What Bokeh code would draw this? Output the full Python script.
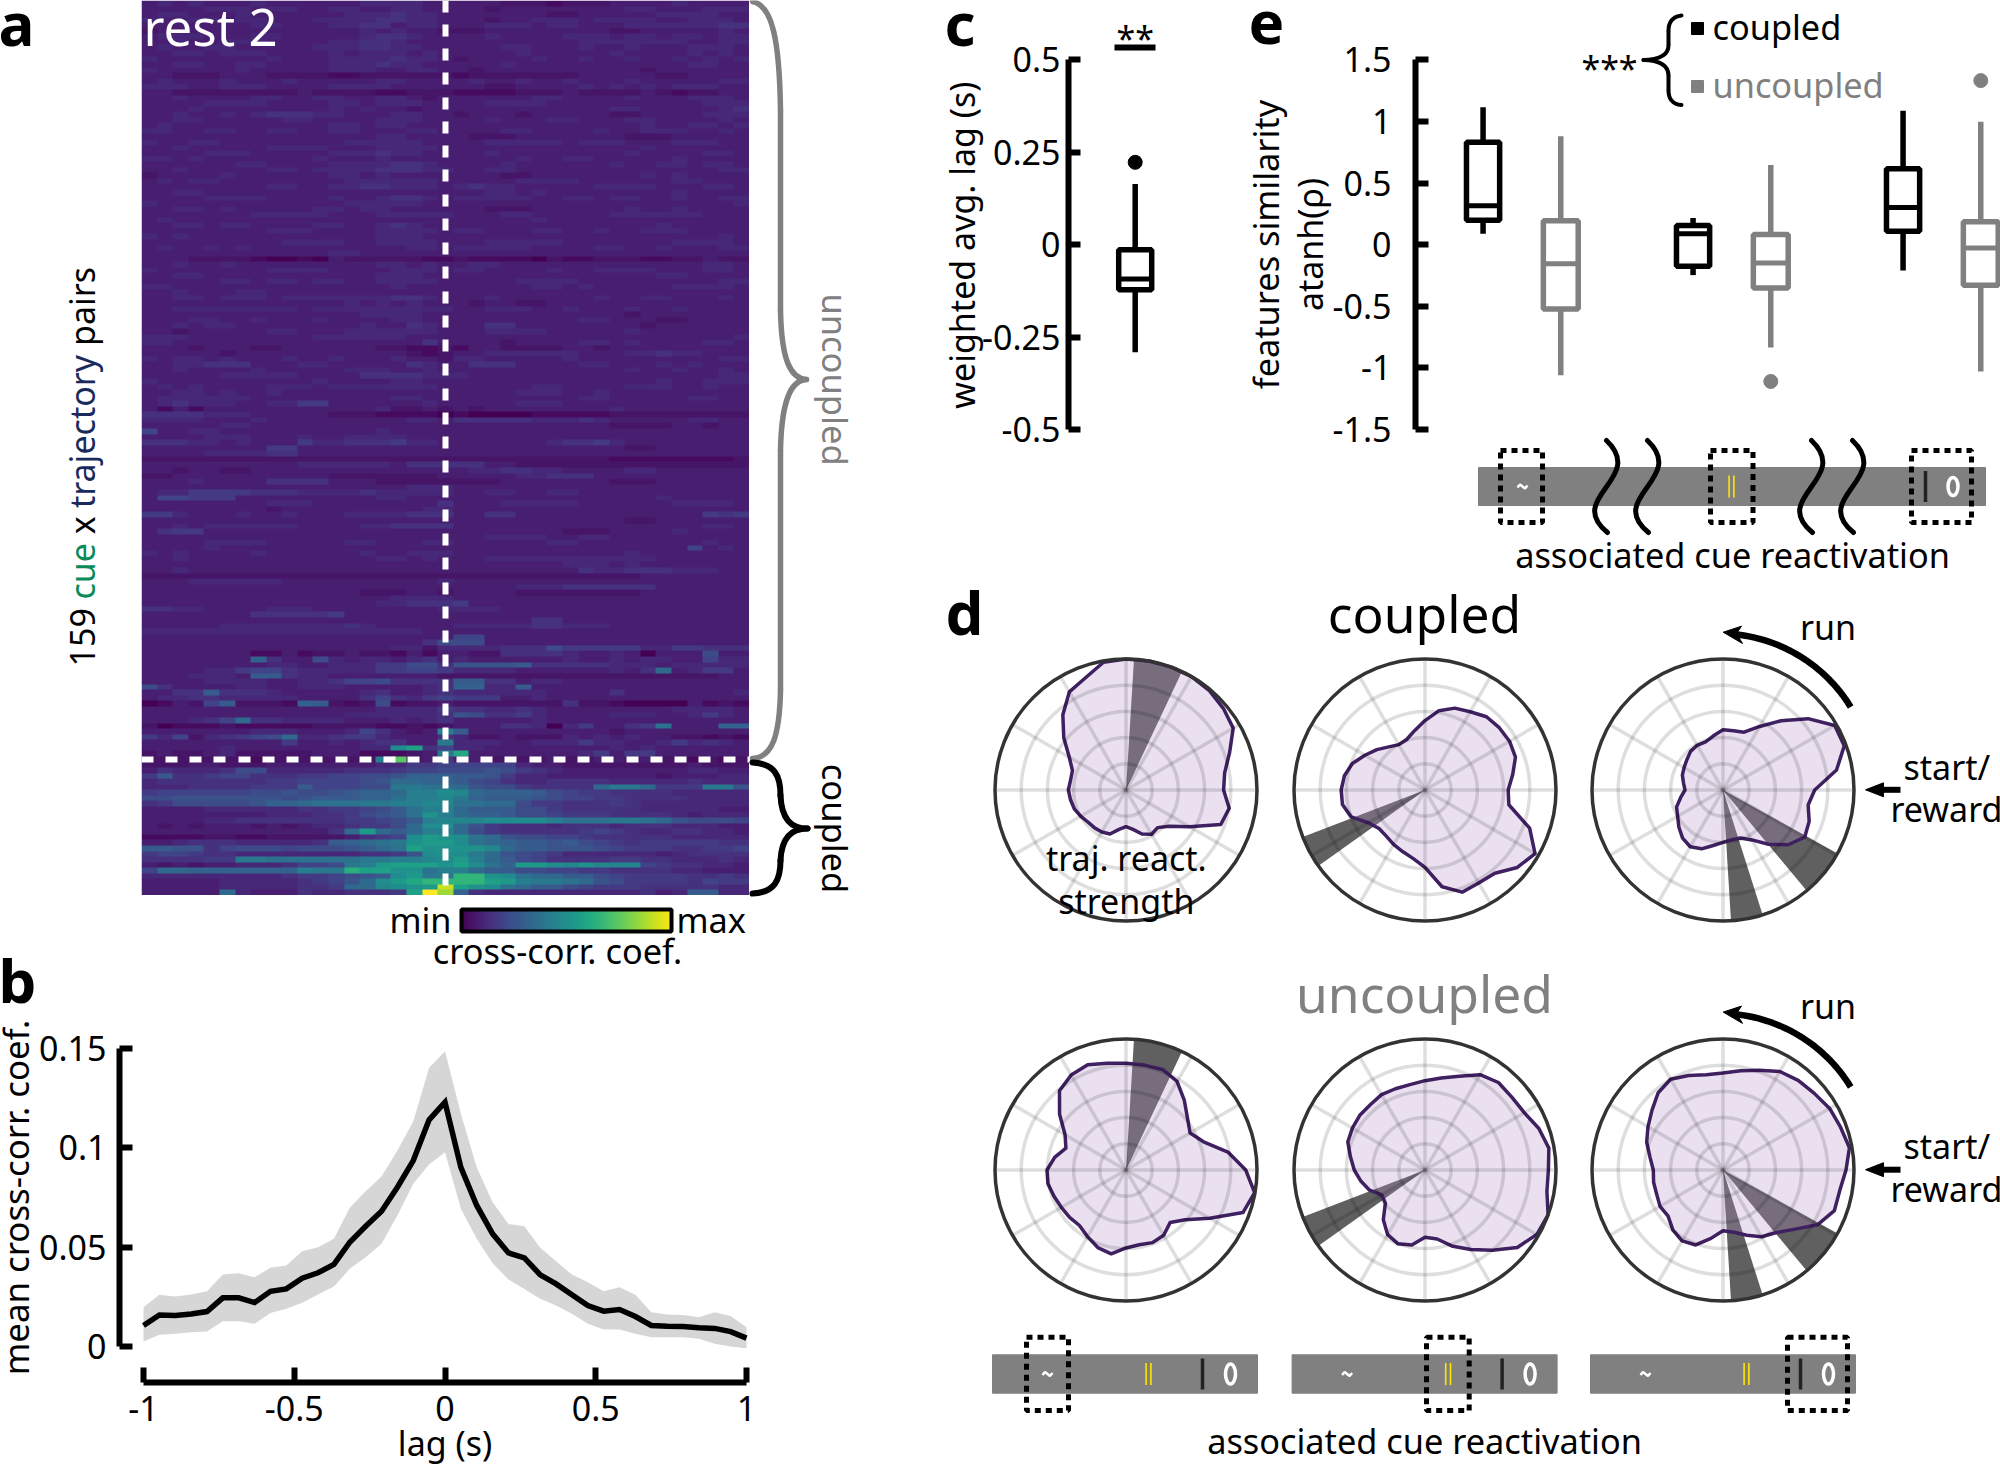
import numpy as np
from bokeh.core.properties import value
from bokeh.embed import file_html
from bokeh.models import FixedTicker, Range1d
from bokeh.palettes import Viridis256
from bokeh.plotting import figure
from bokeh.resources import INLINE

FONT = "Noto Sans"
GRAY = "#808080"

# ---------- panel a: 159 rows x 39 lags, base-36 digit / 35 = scaled coefficient ----------
HEAT_UPPER = """
3434333433 3333444433 3332221222 333343333
3333444344 3344334433 3323333333 344333444
3443334333 3334445443 3333332233 333444433
4334434433 3444455443 3323344434 444334443
3333333443 3344553443 3344434433 344444455
2333333333 3333434332 2233333333 223333343
3444333443 3333455433 3343333444 344344344
3343344433 3344554333 3333333344 444443344
3433443333 3444554433 3334433343 343334443
3344344433 3343444343 3333433333 433334343
4333333343 3344445443 2333343343 343343434
3344334433 3344454433 3334333333 333334433
4333334333 3344433443 3233333333 332333333
3322233322 2211222222 1222222233 333223333
3433343334 3333344333 3433433433 343333344
4443344433 3344443333 3322333343 434344433
3322222222 3222211222 1111222322 223212233
3343333443 3443344323 3333344333 343334443
3333444433 3344344433 3344443333 333333444
3334333333 3343433233 3333333333 443333345
3343343455 5443334433 2333233333 223333444
3344333334 4333344433 3343334433 344333343
3433333333 3344344333 3333333333 334334434
4433443344 3344333443 3334433334 334443343
3333333333 3333344333 3222333333 322233333
4334433333 3334444433 3344444344 433344433
3343333344 4433344443 3333333333 334333333
3333444333 3344454433 3343333333 343333443
4434333333 3433343333 3333433443 333343333
3333334433 3344445543 3334333333 433443443
3343333344 3444455544 3344333333 333333344
2333343333 3344343333 3332233333 334343333
3434433333 3334444443 3333444433 333344333
3333333344 3344554443 4544333334 444333443
3344333333 3333333333 3344343333 333343333
3333444433 3343345543 4444433443 443343344
4333333333 3334444433 3333333333 333333334
3344343333 3443443333 3322233333 343343333
3333333444 4433344444 3334433333 444444333
3433333333 3333333333 3333343333 333333333
3344344333 3443345433 3333333333 333433333
3333333344 4333344443 4433344334 334443333
4343333333 3333344433 3333333333 333333343
3333333334 4443344443 3344444333 333344443
3433434333 3333333443 4444433334 433433344
3333333333 3344333333 3333333333 333333333
3332222100 1032222211 2111102112 221122322
3343343333 3333344343 3443333333 333333443
4333333344 4433334443 4433334334 444333443
3344333333 3333344433 3333333333 333443333
3333344344 3443344443 3333444433 333333344
4433333333 3333334333 3333344343 333344443
3343334433 3333333333 3333333333 333333333
3344344434 4444445543 3343333334 334433343
3333333333 3334343433 3233223333 333333333
3344444444 3444444444 3344433433 343343333
3333333333 3333444433 3333333333 323333333
3334433433 3433334433 3333333344 333223333
3343443333 3333433543 3355333333 332333333
3323333344 3334444443 3344443333 343333333
4443333333 3444444333 3333333333 333333334
4433333333 3333333353 3332333344 343333443
3332333223 3333322112 1332222332 333333333
3333323333 3333333212 3344444433 344544333
4344343334 3343334332 4433333433 333333344
3344555333 4433333543 3555333344 333434333
3343333433 3334443343 3333333333 343343343
3333344444 3333555544 4333333333 333333344
4333333333 3433334433 3333333333 333433444
3434333344 4344444443 3333344333 344433433
3344343343 3333333333 3333444334 333333333
3444444333 3333334433 3333333344 333334433
3454443344 6633333343 3333444333 333333333
3131333333 3333342232 3233333333 433333333
5555444333 3322211110 1000011111 222222222
4444333433 3333333443 5555544454 333334433
3333344333 3333333333 3333333333 222233233
7334433333 3333343333 3333333333 333333333
3333444333 4334444333 3333333333 333333333
5554434333 6445556443 3333334556 433333333
3333333366 3333333333 3333333333 322333333
3333444455 3333333333 3333333333 333333333
2222222222 2222222222 2222222222 111111112
3333333333 4444443555 5533222222 222222222
3323322333 3333333333 3445544333 344333333
2233333333 3322222223 3333445553 333333333
3334333355 5533322222 2223333333 222333333
3333333333 3333333444 3333333333 333333333
3446666555 4444544444 3344334433 333333333
3776663333 3333344333 3333333333 333433333
3333333344 4333333335 3334444433 333344443
3333333323 3333333344 3333333333 333333333
6643334334 3334444555 3355333333 333333656
3333333333 3333333333 3333333333 322333333
3343444444 3333445555 3333333333 333333443
3566333333 3333333333 3333333222 333343333
3333333333 3333333333 3344443344 333333333
3333444433 3334433344 3333334433 333333433
3333433333 3333333333 3333333333 333337343
4343333433 3333433444 3333333333 343333333
3343333333 3333344343 3344444444 444333333
3333333333 3333333333 3333333444 343333333
3343333333 3333333333 3333333354 455544433
2222222222 2222222222 2222222222 223333333
3334444443 3333333334 3333333333 333333333
3333333333 3333333333 3333444555 555333333
3333333333 3333222332 3333222222 223333333
3333333333 3333334444 3333333333 333333333
3333333333 3333344555 6333333333 333333333
5544333344 4333333334 4443333333 333333333
3333333555 5563333333 3333333333 333333333
3333333333 3333333333 3333355333 333333333
3333344444 4445433333 4444455444 333333333
4444444444 4444444433 3333333333 333333333
3333333333 3333333333 7733333333 333333333
3333333333 3333333358 8833333333 333333333
"""

HEAT_LOWER = """
3333333333 3333334424 4445558666 664466555
3333333113 1223221313 3225555433 430333833
3333333b53 3843443453 4333333433 434433744
3333333344 3344466885 9999a55555 444344444
3333446775 4444466776 4444333333 435c34663
3334443aa5 4433333332 2222222222 222222233
3333444433 4457785555 aa55344333 333333333
8533334433 4443333345 bb44a33333 333333333
3355a55543 3333453345 4444443333 533333334
3445544444 3333575467 6663343333 333333333
01327a2221 ba21281223 2222222522 100003121
3333333333 3333344446 5544543333 333344443
3333333333 3334444445 9855643333 444334643
333457c554 4443334345 3333343333 333333333
2011121111 1222211212 3335540463 356d333bb
3333333444 333475323f a333333333 233333333
6472456 78c 4456643335 4223222434 343322121
3333333336 334345533e 4443344464 433464543
3333343333 333344hk57 4433333333 434333333
2322342222 233311123e l333333346 366333333
2222222122 22222fq236 3322223223 323221212
2223322233 3333344667 7777433222 222223222
3544458844 4445556778 8898654333 333334433
6a55677555 6677889bbb aa96443333 333233344
4555555566 777789ccbb a875445555 444445444
4445555666 a77788eedd c98865555c eec666ee9
6777777889 889abbcffh gcbbba8766 555544444
8899999998 9aaabbdffg ebaaa98776 655554444
56888889bb cdddeeffgg ddcc866555 654444444
3333444444 556678adff caaa886555 554444433
3333333344 455689adif cbba887666 555543444
3333445555 5556678afg gghhhhfddd eedc98887
3232333232 3445668chh c965554555 455544433
3333333333 335cjcacff c865555567 654455443
1111221122 2223567hji hdc9887765 555544444
3345554444 45abcdeijj hdcbaa9a87 656666655
aa99578887 8889acdkii iigcaa9998 766655667
6776554444 44445569hi hec9876444 444345555
555566eedd ddddeeffgh jfca875555 665544454
3232334445 778efjkkki khdbjjhgig gg7655443
7ccbbbbbbb feemkkiidf fcaa887766 555544333
4444444445 66789ahjee nnihdccaa8 766665565
3333344444 5679chjlnn nnkjfeedc9 866665766
3333344444 556ccghijw kihdcaa876 665555544
33333c4333 5445556kzu b544444444 44534aa44
"""


def parse_rows(text):
    rows = [line.replace(" ", "") for line in text.strip().splitlines()]
    return [[int(c, 36) / 35 for c in r.ljust(39, r[-1])[:39]] for r in rows]


heat_rows = parse_rows(HEAT_UPPER) + parse_rows(HEAT_LOWER)

# ---------- panel b ----------
LAG_TICKS = [-1, -0.5, 0, 0.5, 1]
B_Y_TICKS = [0, 0.05, 0.1, 0.15]
MEAN_CORR = [.0106,.0159,.0156,.0164,.0176,.0245,.0245,.0221,.0278,.0290,.0344,.0371,.0413,
             .0525,.0605,.0681,.0802,.0936,.1141,.1230,.0902,.0710,.0567,.0471,.0446,.0361,
             .0315,.0260,.0206,.0178,.0186,.0151,.0106,.0102,.0101,.0094,.0091,.0075,.0042]
UPPER_CORR = [.0198,.0260,.0252,.0262,.0278,.0362,.0369,.0349,.0396,.0408,.0480,.0500,.0542,
              .0698,.0782,.0856,.0986,.1132,.1403,.1486,.1171,.0902,.0726,.0617,.0605,.0497,
              .0429,.0362,.0324,.0278,.0298,.0260,.0173,.0161,.0159,.0147,.0173,.0153,.0097]
LOWER_CORR = [.0025,.0059,.0064,.0072,.0075,.0127,.0127,.0114,.0168,.0190,.0220,.0262,.0302,
              .0391,.0449,.0517,.0659,.0819,.0916,.0978,.0693,.0542,.0419,.0337,.0290,.0240,
              .0206,.0165,.0114,.0086,.0086,.0064,.0047,.0047,.0047,.0039,.0014,.0000,-.0009]

# ---------- panel c ----------
C_TICKS = [-0.5, -0.25, 0, 0.25, 0.5]
C_Q1, C_MED, C_Q3, C_LOW, C_HIGH, C_OUT = -0.122, -0.093, -0.014, -0.291, 0.164, 0.223

# ---------- panel e ----------
E_TICKS = [-1.5, -1, -0.5, 0, 0.5, 1, 1.5]
E_GROUP = [0, 0, 1, 1, 2, 2]
E_KIND = ["coupled", "uncoupled"] * 3
E_Q1 = [0.198, -0.521, -0.174, -0.351, 0.110, -0.329]
E_MED = [0.317, -0.155, 0.088, -0.149, 0.302, -0.027]
E_Q3 = [0.832, 0.195, 0.155, 0.082, 0.616, 0.186]
E_LOW = [0.088, -1.060, -0.247, -0.835, -0.210, -1.030]
E_HIGH = [1.116, 0.881, 0.216, 0.646, 1.088, 0.997]
E_OUT_GROUP = [1, 2]
E_OUT_KIND = ["uncoupled", "uncoupled"]
E_OUT = [-1.11, 1.332]

# ---------- panel d: radius at every 10 degrees, counter-clockwise from start/reward ----------
POLAR_THETA = list(range(0, 360, 10))
COUPLED_R = [
    [.745,.765,.842,.945,.97,.99,1.0,1.0,1.0,1.0,.99,.91,.865,.75,.62,.50,.435,.43,
     .44,.43,.42,.40,.38,.375,.37,.357,.305,.28,.305,.357,.39,.375,.43,.56,.77,.80],
    [.635,.68,.735,.745,.74,.73,.69,.665,.615,.53,.46,.41,.40,.43,.48,.53,.59,.625,
     .64,.64,.60,.50,.458,.46,.48,.50,.53,.59,.75,.83,.82,.83,.92,.97,.85,.65],
    [.70,.88,.985,.985,.847,.69,.56,.47,.46,.46,.42,.39,.394,.385,.36,.343,.33,.306,
     .29,.328,.377,.40,.44,.48,.50,.478,.43,.40,.386,.39,.44,.54,.65,.72,.70,.66],
]
UNCOUPLED_R = [
    [.914,.79,.63,.565,.613,.693,.78,.817,.813,.814,.827,.855,.837,.79,.662,.537,.488,.553,
     .603,.605,.585,.57,.562,.553,.587,.63,.65,.595,.58,.59,.575,.524,.59,.738,.95,.997],
    [.942,.96,.925,.875,.865,.872,.84,.762,.713,.682,.662,.66,.664,.65,.65,.64,.627,.578,
     .54,.496,.45,.38,.395,.495,.57,.60,.581,.514,.535,.62,.70,.80,.92,.985,1.0,.945],
    [.939,.98,.955,.94,.91,.893,.868,.81,.77,.74,.738,.767,.80,.77,.708,.661,.62,.566,
     .532,.538,.539,.555,.547,.596,.625,.609,.53,.463,.483,.53,.588,.625,.705,.835,.905,.905],
]
SECTOR_START = [[64.7], [201.0], [-50.3, -86.5]]
SECTOR_END = [[86.5], [215.4], [-29.0, -72.4]]
RING_R = [0.2, 0.4, 0.6, 0.8]
SPOKE_DEG = list(range(0, 360, 30))


# ---------- helpers ----------
def make_fig(left, top, right, bottom, xr, yr, border_left=0, border_bottom=0, **kw):
    """Frame occupies exactly left..right, top..bottom in page pixels."""
    fig = figure(width=int(round(right - left + border_left)), height=int(round(bottom - top + border_bottom)),
                 x_range=Range1d(*xr), y_range=Range1d(*yr), toolbar_location=None,
                 output_backend="svg", min_border_left=border_left, min_border_right=0,
                 min_border_top=0, min_border_bottom=border_bottom,
                 background_fill_alpha=0, border_fill_alpha=0, outline_line_color=None,
                 x_axis_location=kw.pop("x_axis_location", None),
                 y_axis_location=kw.pop("y_axis_location", None), **kw)
    fig.grid.visible = False
    fig.styles = {"position": "absolute", "left": f"{left - border_left}px", "top": f"{top}px"}
    return fig


def style_axis(ax, ticks, labels, bounds, tick_in, standoff, font_px=34, width=6):
    ax.ticker = FixedTicker(ticks=ticks)
    ax.major_label_overrides = {t: lab for t, lab in zip(ticks, labels)}
    ax.bounds = bounds
    ax.major_tick_in = tick_in
    ax.major_tick_out = 0
    ax.minor_tick_line_color = None
    ax.axis_line_width = width
    ax.major_tick_line_width = width
    ax.axis_line_color = "black"
    ax.major_tick_line_color = "black"
    ax.major_label_text_font = FONT
    ax.major_label_text_font_size = f"{font_px}px"
    ax.major_label_text_color = "black"
    ax.major_label_standoff = standoff


figs = []

# ---------- panel a heat map ----------
half_cell = 1 / 38
pa = make_fig(141, 0, 749, 895, (-1 - half_cell, 1 + half_cell), (0, 159))
pa.image(image=[np.array(heat_rows)[::-1]], x=-1 - half_cell, y=0, dw=2 + 2 * half_cell, dh=159,
         palette=Viridis256, level="image")
DASH = "12 12 12 12 12 12 12 13"
pa.line([0, 0], [159, 0], line_color="white", line_width=6, line_dash=DASH)
pa.line([-1 - half_cell, 1 + half_cell], [24.15, 24.15], line_color="white", line_width=6, line_dash=DASH)
figs.append(pa)

# colour bar
pcb = make_fig(461, 909, 671, 931, (0, 1), (0, 1))
pcb.image(image=[np.linspace(0, 1, 256)[None, :]], x=0, y=0, dw=1, dh=1, palette=Viridis256)
figs.append(pcb)

# ---------- panel b ----------
B_X0, B_XS = 444.5, 301.5
B_Y0, B_YS = 1346.0, 298.0 / 0.15
left_b, right_b, top_b, bot_b = 119, 760, 1030, 1382
pb = make_fig(left_b, top_b, right_b, bot_b,
              ((left_b - B_X0) / B_XS, (right_b - B_X0) / B_XS),
              ((B_Y0 - bot_b) / B_YS, (B_Y0 - top_b) / B_YS),
              border_left=100, border_bottom=60,
              x_axis_location="below", y_axis_location="left")
lags = np.linspace(-1, 1, len(MEAN_CORR))
pb.varea(x=lags, y1=LOWER_CORR, y2=UPPER_CORR, fill_color="#d6d6d6")
pb.line(lags, MEAN_CORR, line_color="black", line_width=5.5, line_join="miter")
style_axis(pb.yaxis[0], B_Y_TICKS, ["0", "0.05", "0.1", "0.15"], (0, 0.15), 13, 13)
style_axis(pb.xaxis[0], LAG_TICKS, ["-1", "-0.5", "0", "0.5", "1"], (-1, 1), 15, 13)
figs.append(pb)

# ---------- panel c ----------
C_Y0, C_YS = 244.2, 369.5
C_X0, C_UNIT = 1134.7, 33.0
left_c, right_c, top_c, bot_c = 1068, 1200, 30, 445
pc = make_fig(left_c, top_c, right_c, bot_c,
              ((left_c - C_X0) / C_UNIT, (right_c - C_X0) / C_UNIT),
              ((C_Y0 - bot_c) / C_YS, (C_Y0 - top_c) / C_YS),
              border_left=100, y_axis_location="left")
pc.segment([0], [C_LOW], [0], [C_HIGH], line_color="black", line_width=5.5)
pc.quad(left=[-.5], right=[.5], bottom=[C_Q1], top=[C_Q3], fill_color="white", line_color="black", line_width=5.5)
pc.segment([-.5], [C_MED], [.5], [C_MED], line_color="black", line_width=5)
pc.scatter([0], [C_OUT], size=14, color="black")
style_axis(pc.yaxis[0], C_TICKS, ["-0.5", "-0.25", "0", "0.25", "0.5"], (-0.5, 0.5), 12, 8)
figs.append(pc)

# ---------- panel e ----------
E_Y0, E_YS = 244.2, 123.2
E_X0, E_XS = 1521.0, 210.0
left_e, right_e, top_e, bot_e = 1415, 2000, 30, 445
pe = make_fig(left_e, top_e, right_e, bot_e,
              ((left_e - E_X0) / E_XS, (right_e - E_X0) / E_XS),
              ((E_Y0 - bot_e) / E_YS, (E_Y0 - top_e) / E_YS),
              border_left=100, y_axis_location="left")
E_COLOR = {"coupled": "black", "uncoupled": GRAY}
E_SHIFT = {"coupled": -0.183, "uncoupled": 0.187}
for g, k, q1, med, q3, lo, hi in zip(E_GROUP, E_KIND, E_Q1, E_MED, E_Q3, E_LOW, E_HIGH):
    cx = g + E_SHIFT[k]
    hw = 0.079 if k == "coupled" else 0.083
    pe.segment([cx], [lo], [cx], [hi], line_color=E_COLOR[k], line_width=5.5)
    pe.quad(left=[cx - hw], right=[cx + hw], bottom=[q1], top=[q3], fill_color="white",
            line_color=E_COLOR[k], line_width=5.5)
    pe.segment([cx - hw], [med], [cx + hw], [med], line_color=E_COLOR[k], line_width=5)
for g, k, v in zip(E_OUT_GROUP, E_OUT_KIND, E_OUT):
    pe.scatter([g + E_SHIFT[k]], [v], size=14, color=E_COLOR[k])
style_axis(pe.yaxis[0], E_TICKS, ["-1.5", "-1", "-0.5", "0", "0.5", "1", "1.5"], (-1.5, 1.5), 13, 24)
figs.append(pe)

# ---------- panel d: polar plots ----------
POLAR_CX = [1125.5, 1424.5, 1722.5]
POLAR_CY = [789.5, 1169.5]
POLAR_PX = 131.0
for row, radii_set in enumerate([COUPLED_R, UNCOUPLED_R]):
    for col, radii in enumerate(radii_set):
        half = 137.5
        lim = half / POLAR_PX
        pp = make_fig(POLAR_CX[col] - half, POLAR_CY[row] - half, POLAR_CX[col] + half, POLAR_CY[row] + half,
                      (-lim, lim), (-lim, lim))
        for s, e in zip(SECTOR_START[col], SECTOR_END[col]):
            pp.wedge(x=[0], y=[0], radius=[1], start_angle=[np.deg2rad(s)], end_angle=[np.deg2rad(e)],
                     fill_color="#606060", line_color=None)
        th = np.deg2rad(POLAR_THETA)
        pp.patch(np.array(radii) * np.cos(th), np.array(radii) * np.sin(th),
                 fill_color="#b48ec8", fill_alpha=0.28, line_color="#3f2060", line_width=3.5,
                 line_join="round")
        sp = np.deg2rad(SPOKE_DEG)
        pp.segment(0, 0, np.cos(sp), np.sin(sp), line_color="black", line_alpha=0.13, line_width=3.5)
        pp.circle(x=[0] * len(RING_R), y=[0] * len(RING_R), radius=RING_R, fill_color=None,
                  line_color="black", line_alpha=0.13, line_width=3.5)
        pp.circle(x=[0], y=[0], radius=[1], fill_color=None, line_color="#333333", line_width=3.5)
        figs.append(pp)

# ---------- overlay: titles, annotations, schematics ----------
ov = make_fig(0, 0, 2000, 1464, (0, 2000), (1464, 0))
BASE_SHIFT = 0.38  # the SVG text baseline sits this many ems below the anchor


def txt(x, y, s, px=34, color="black", angle=0.0, align="left", bold=False):
    if angle > 0:
        x -= BASE_SHIFT * px
    elif angle < 0:
        x += BASE_SHIFT * px
    else:
        y -= BASE_SHIFT * px
    ov.text(x=[x], y=[y], text=[s], text_font=value(FONT), text_font_size=f"{px}px", text_color=color,
            angle=angle, text_align=align, text_baseline="alphabetic",
            text_font_style="bold" if bold else "normal")


def bez(points, color="black", width=5):
    (x0, y0), (cx0, cy0), (cx1, cy1), (x1, y1) = points
    ov.bezier(x0=[x0], y0=[y0], x1=[x1], y1=[y1], cx0=[cx0], cy0=[cy0], cx1=[cx1], cy1=[cy1],
              line_color=color, line_width=width, line_cap="round")


UP = np.pi / 2
# panel letters
txt(-2, 45, "a", 60, bold=True)
txt(-2, 1002, "b", 60, bold=True)
txt(944, 45, "c", 60, bold=True)
txt(945, 634, "d", 60, bold=True)
txt(1248, 45, "e", 60, bold=True)

# panel a texts
txt(143, 45, "rest 2", 51, "white")
txt(94.7, 666, "159", 34, "black", UP)
txt(94.7, 599, "cue", 34, "#0b8a5a", UP)
txt(94.7, 533.8, "x", 34, "black", UP)
txt(94.7, 507.6, "trajectory", 34, "#1b2a5c", UP)
txt(94.7, 345.5, "pairs", 34, "black", UP)
txt(822, 379, "uncoupled", 34.5, GRAY, -UP, "center")
txt(822, 828, "coupled", 34.5, "black", -UP, "center")
txt(451, 932, "min", 34.3, align="right")
txt(676, 932, "max", 34.3)
txt(557, 963, "cross-corr. coef.", 34.3, align="center")

# colour bar frame
ov.quad(left=[461], right=[671], top=[909], bottom=[931], fill_color=None, line_color="black", line_width=4)

# braces of panel a
for pts in ([(752, 1), (772, 5), (779, 40), (780, 110)],
            [(780, 310), (781, 360), (790, 378), (806, 379)],
            [(806, 379), (790, 380), (781, 400), (780, 450)],
            [(780, 690), (779, 735), (772, 757), (752, 758)]):
    bez(pts, GRAY, 5.5)
ov.segment([780, 780], [110, 450], [780, 780], [310, 690], line_color=GRAY, line_width=5.5)
for pts in ([(752, 762), (774, 763), (780, 775), (780, 795)],
            [(780, 795), (781, 818), (790, 828), (807, 828)],
            [(807, 828), (790, 828), (781, 838), (780, 860)],
            [(780, 860), (780, 880), (774, 892), (752, 893)]):
    bez(pts, "black", 6)

# panel b titles
txt(28.5, 1197, "mean cross-corr. coef.", 34.8, angle=UP, align="center")
txt(444.5, 1455, "lag (s)", 34, align="center")

# panel c titles
txt(974, 244.6, "weighted avg. lag (s)", 34, angle=UP, align="center")
ov.segment([1114], [47], [1155], [47], line_color="black", line_width=6)
txt(1134.7, 50.5, "**", 34, align="center")

# panel e titles and legend
txt(1278.5, 244, "features similarity", 34.3, angle=UP, align="center")
txt(1322, 244, "atanh(ρ)", 34, angle=UP, align="center")
ov.rect([1697, 1697], [28, 86], width=12, height=12, color=["black", GRAY])
txt(1712, 39, "coupled", 34.3)
txt(1712, 97, "uncoupled", 34.3, GRAY)
txt(1609, 80.5, "***", 34, align="center")
for pts in ([(1681, 15), (1672, 16), (1668, 22), (1668, 30)],
            [(1668, 45), (1668, 54), (1660, 59), (1643, 59.5)],
            [(1643, 59.5), (1660, 60), (1668, 65), (1668, 75)],
            [(1668, 90), (1668, 98), (1672, 104), (1681, 104.5)]):
    bez(pts, "black", 4)
ov.segment([1668, 1668], [30, 75], [1668, 1668], [45, 90], line_color="black", line_width=4)


def cue_marks(x_wave, x_yellow, x_black, x_ring, yc, h_yellow, h_black, ring_h):
    ov.line([x_wave - 5, x_wave - 2.5, x_wave, x_wave + 2.5, x_wave + 5],
            [yc + 1, yc - 2, yc, yc + 2, yc - 1], line_color="white", line_width=2.5)
    ov.segment([x_yellow - 2.4, x_yellow + 2.4], [yc - h_yellow] * 2, [x_yellow - 2.4, x_yellow + 2.4],
               [yc + h_yellow] * 2, line_color="#ffe600", line_width=1.6)
    ov.segment([x_black], [yc - h_black], [x_black], [yc + h_black], line_color="#222222", line_width=3.5)
    ov.ellipse([x_ring], [yc], width=10, height=ring_h, fill_color=None, line_color="white", line_width=3.5)


# track of panel e
ov.quad(left=[1478], right=[1985], top=[467], bottom=[505], color=GRAY)
cue_marks(1522, 1731, 1925, 1952.5, 486, 11, 15.5, 18)
for l, r, t, b in ((1500, 1542, 450, 522), (1710, 1752.5, 450, 522), (1911, 1971, 450, 522)):
    ov.quad(left=[l], right=[r], top=[t], bottom=[b], fill_color=None, line_color="black",
            line_width=5, line_dash="6 5")
for x0 in (1606, 1647, 1811, 1852):
    bez([(x0, 440), (x0 + 40, 478), (x0 - 42, 497), (x0 + 1, 532)], "black", 5)
txt(1732, 567, "associated cue reactivation", 34.3, align="center")

# panel d texts
txt(1424, 632, "coupled", 51.5, align="center")
txt(1424, 1012, "uncoupled", 51.5, GRAY, align="center")
txt(1125.8, 870, "traj. react.", 34, align="center")
txt(1125.8, 913, "strength", 34, align="center")

for dy in (0, 379.9):
    arc = np.deg2rad(np.linspace(33, 86, 30))
    rad = np.linspace(152, 156, 30)
    ov.line(1722.7 + rad * np.cos(arc), 789.3 + dy - rad * np.sin(arc), line_color="black", line_width=6.5)
    ov.patch([1722.7, 1741, 1736, 1742], [631.7 + dy, 625.7 + dy, 633 + dy, 643 + dy], color="black")
    txt(1827.5, 639 + dy, "run", 34, align="center")
    ov.segment([1878], [789.3 + dy], [1900], [789.3 + dy], line_color="black", line_width=6)
    ov.patch([1865, 1883, 1883], [789.3 + dy, 782.3 + dy, 796.3 + dy], color="black")
    txt(1903, 779 + dy, "start/", 34)
    txt(1890, 821.7 + dy, "reward", 34)

# tracks of panel d
TRACK_LEFT = [992, 1291.6, 1590]
DOT_L = [1026, 1426, 1787]
DOT_R = [1068, 1468.7, 1847]
for tl, dl, dr in zip(TRACK_LEFT, DOT_L, DOT_R):
    ov.quad(left=[tl], right=[tl + 265], top=[1354.3], bottom=[1392.7], color=GRAY)
    cue_marks(tl + 55, tl + 156, tl + 210, tl + 238, 1373.5, 11, 15.5, 20)
    ov.quad(left=[dl], right=[dr], top=[1336.7], bottom=[1410], fill_color=None, line_color="black",
            line_width=5, line_dash="6 5")
txt(1424, 1453, "associated cue reactivation", 34.3, align="center")
figs.append(ov)

open("out.html", "w").write(file_html(figs, INLINE))
